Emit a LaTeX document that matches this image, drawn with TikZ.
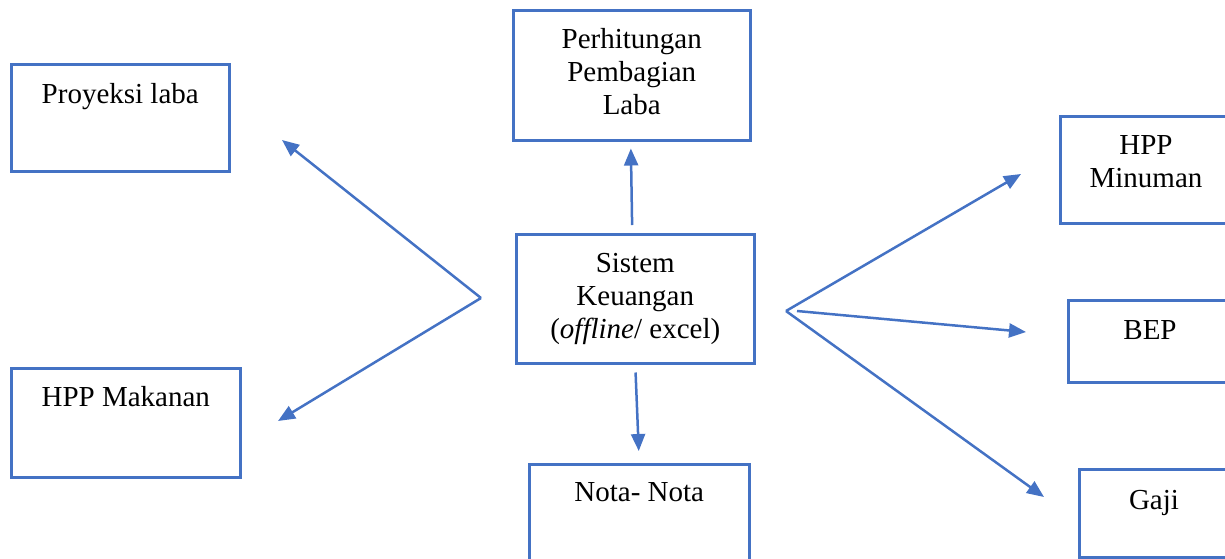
\documentclass[tikz,border=0pt]{standalone}
\usepackage{fontspec}
\setmainfont{Liberation Serif}
\usepackage{xcolor}
\usepackage{tikz}
\usetikzlibrary{positioning}
\usetikzlibrary{arrows.meta}
\usetikzlibrary{calc}

\definecolor{boxblue}{RGB}{68,114,196}

\begin{document}
\begin{tikzpicture}[x=1pt, y=-1pt,
	box/.style = {draw=boxblue, line width=2.5pt, rectangle, anchor=north west, inner sep=0pt},
	lbl/.style = {font=\fontsize{29}{33}\selectfont, align=center, inner sep=0pt, anchor=north,
		execute at begin node={\rule{0pt}{20pt}}},
	arr/.style = {draw=boxblue, line width=2.5pt, -{Triangle[length=17pt,width=14pt]}}]
\clip (0,0) rectangle (1225,558);

% boxes
\node[box, minimum width=218pt, minimum height=107pt] (proy) at (10,63) {};
\node[box, minimum width=229pt, minimum height=109pt] (hppmak) at (10,367) {};
\node[box, minimum width=237pt, minimum height=130pt] (bagi) at (512,9) {};
\node[box, minimum width=238pt, minimum height=129pt] (sistem) at (515,233) {};
\node[box, minimum width=220pt, minimum height=110pt] (nota) at (528,463) {};
\node[box, minimum width=174pt, minimum height=107pt] (hppmin) at (1059,115) {};
\node[box, minimum width=166pt, minimum height=82pt] (bep) at (1067,299) {};
\node[box, minimum width=152pt, minimum height=88pt] (gaji) at (1078,468) {};

% texts
\node[lbl] (proyT) at ($(proy.north)+(0,20)$) {Proyeksi laba};
\node[lbl] (hppmakT) at ($(hppmak.north)+(0,19)$) {HPP Makanan};
\node[lbl] (bagiT) at ($(bagi.north)+(0,19)$) {Perhitungan\\Pembagian\\Laba};
\node[lbl] (sistemT) at ($(sistem.north)+(0,20)$) {Sistem\\Keuangan\\(\textit{offline}/ excel)};
\node[lbl] (notaT) at ($(nota.north)+(0,18)$) {Nota- Nota};
\node[lbl] (hppminT) at ($(hppmin.north west)+(87,20)$) {HPP\\Minuman};
\node[lbl] (bepT) at ($(bep.north west)+(83,20)$) {BEP};
\node[lbl] (gajiT) at ($(gaji.north west)+(76,21)$) {Gaji};

% arrow ends
\coordinate (jl) at (481,298);
\coordinate (jr) at (786,311);
\coordinate (jr2) at (797,311);
\coordinate (toproy) at (282,140);
\coordinate (tohppmak) at (278,421);
\coordinate (tohppmin) at (1021,174);
\coordinate (tobep) at (1026,332);
\coordinate (togaji) at (1044,497);

\draw[arr, shorten <=8pt, shorten >=7pt] ([xshift=-3pt]sistem.north) -- ([xshift=-1pt]bagi.south);
\draw[arr, shorten <=8pt, shorten >=12pt] (sistem.south) -- (nota.north);
\draw[arr] (jl) -- (toproy);
\draw[arr] (jl) -- (tohppmak);
\draw[arr] (jr) -- (tohppmin);
\draw[arr] (jr2) -- (tobep);
\draw[arr] (jr) -- (togaji);
\end{tikzpicture}
\end{document}
